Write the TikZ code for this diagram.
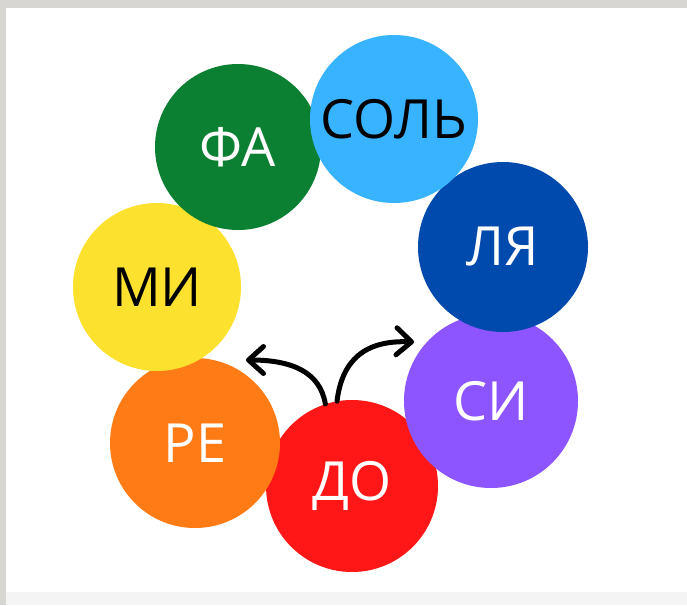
\documentclass[tikz,border=0pt]{standalone}
\usepackage{fontspec}
\setmainfont{Open Sans}
\usetikzlibrary{arrows.meta}
\definecolor{frameA}{HTML}{D8D6D3}
\definecolor{frameB}{HTML}{F4F4F4}
\definecolor{cDo}{HTML}{FF1616}
\definecolor{cRe}{HTML}{FF7B16}
\definecolor{cMi}{HTML}{FCE22E}
\definecolor{cFa}{HTML}{0B7F32}
\definecolor{cSol}{HTML}{38B3FF}
\definecolor{cLa}{HTML}{004AAD}
\definecolor{cSi}{HTML}{8C55FF}
\tikzset{
  x=1pt, y=-1pt,
  note/.style={circle, inner sep=0pt, minimum size=#1, font=\fontsize{54}{60}\selectfont},
  swing/.style={line width=5pt, line cap=round, line join=round,
    -{Straight Barb[length=15pt, width=27pt, line width=5pt, round]}}
}
\begin{document}
\begin{tikzpicture}
  % page and frame
  \useasboundingbox (0,0) rectangle (687,605);
  \fill[frameA] (0,0) rectangle (687,605);
  \fill[frameB] (6,8) rectangle (687,605);
  \fill[white] (6,8) rectangle (687,592);

  % notes, drawn back to front
  \node[note=172pt, fill=cDo, text=white]  (do)  at (352,486) {ДО};
  \node[note=170pt, fill=cRe, text=white]  (re)  at (195,443) {РЕ};
  \node[note=174pt, fill=cSi, text=white]  (si)  at (491,401) {СИ};
  \node[note=168pt, fill=cMi, text=black]  (mi)  at (157,287) {МИ};
  \node[note=170pt, fill=cLa, text=white]  (la)  at (503,247) {ЛЯ};
  \node[note=166pt, fill=cFa, text=white]  (fa)  at (238,147) {ФА};
  \node[note=168pt, fill=cSol, text=black] (sol) at (394,119) {СОЛЬ};

  % two directions out of ДО
  \coordinate (toRe) at (246,360);
  \coordinate (toSi) at (414,342);
  \draw[swing] (do.108) .. controls (320,372) and (292,360) .. (toRe);
  \draw[swing] (do.100) .. controls (342,360) and (365,340) .. (toSi);
\end{tikzpicture}
\end{document}
